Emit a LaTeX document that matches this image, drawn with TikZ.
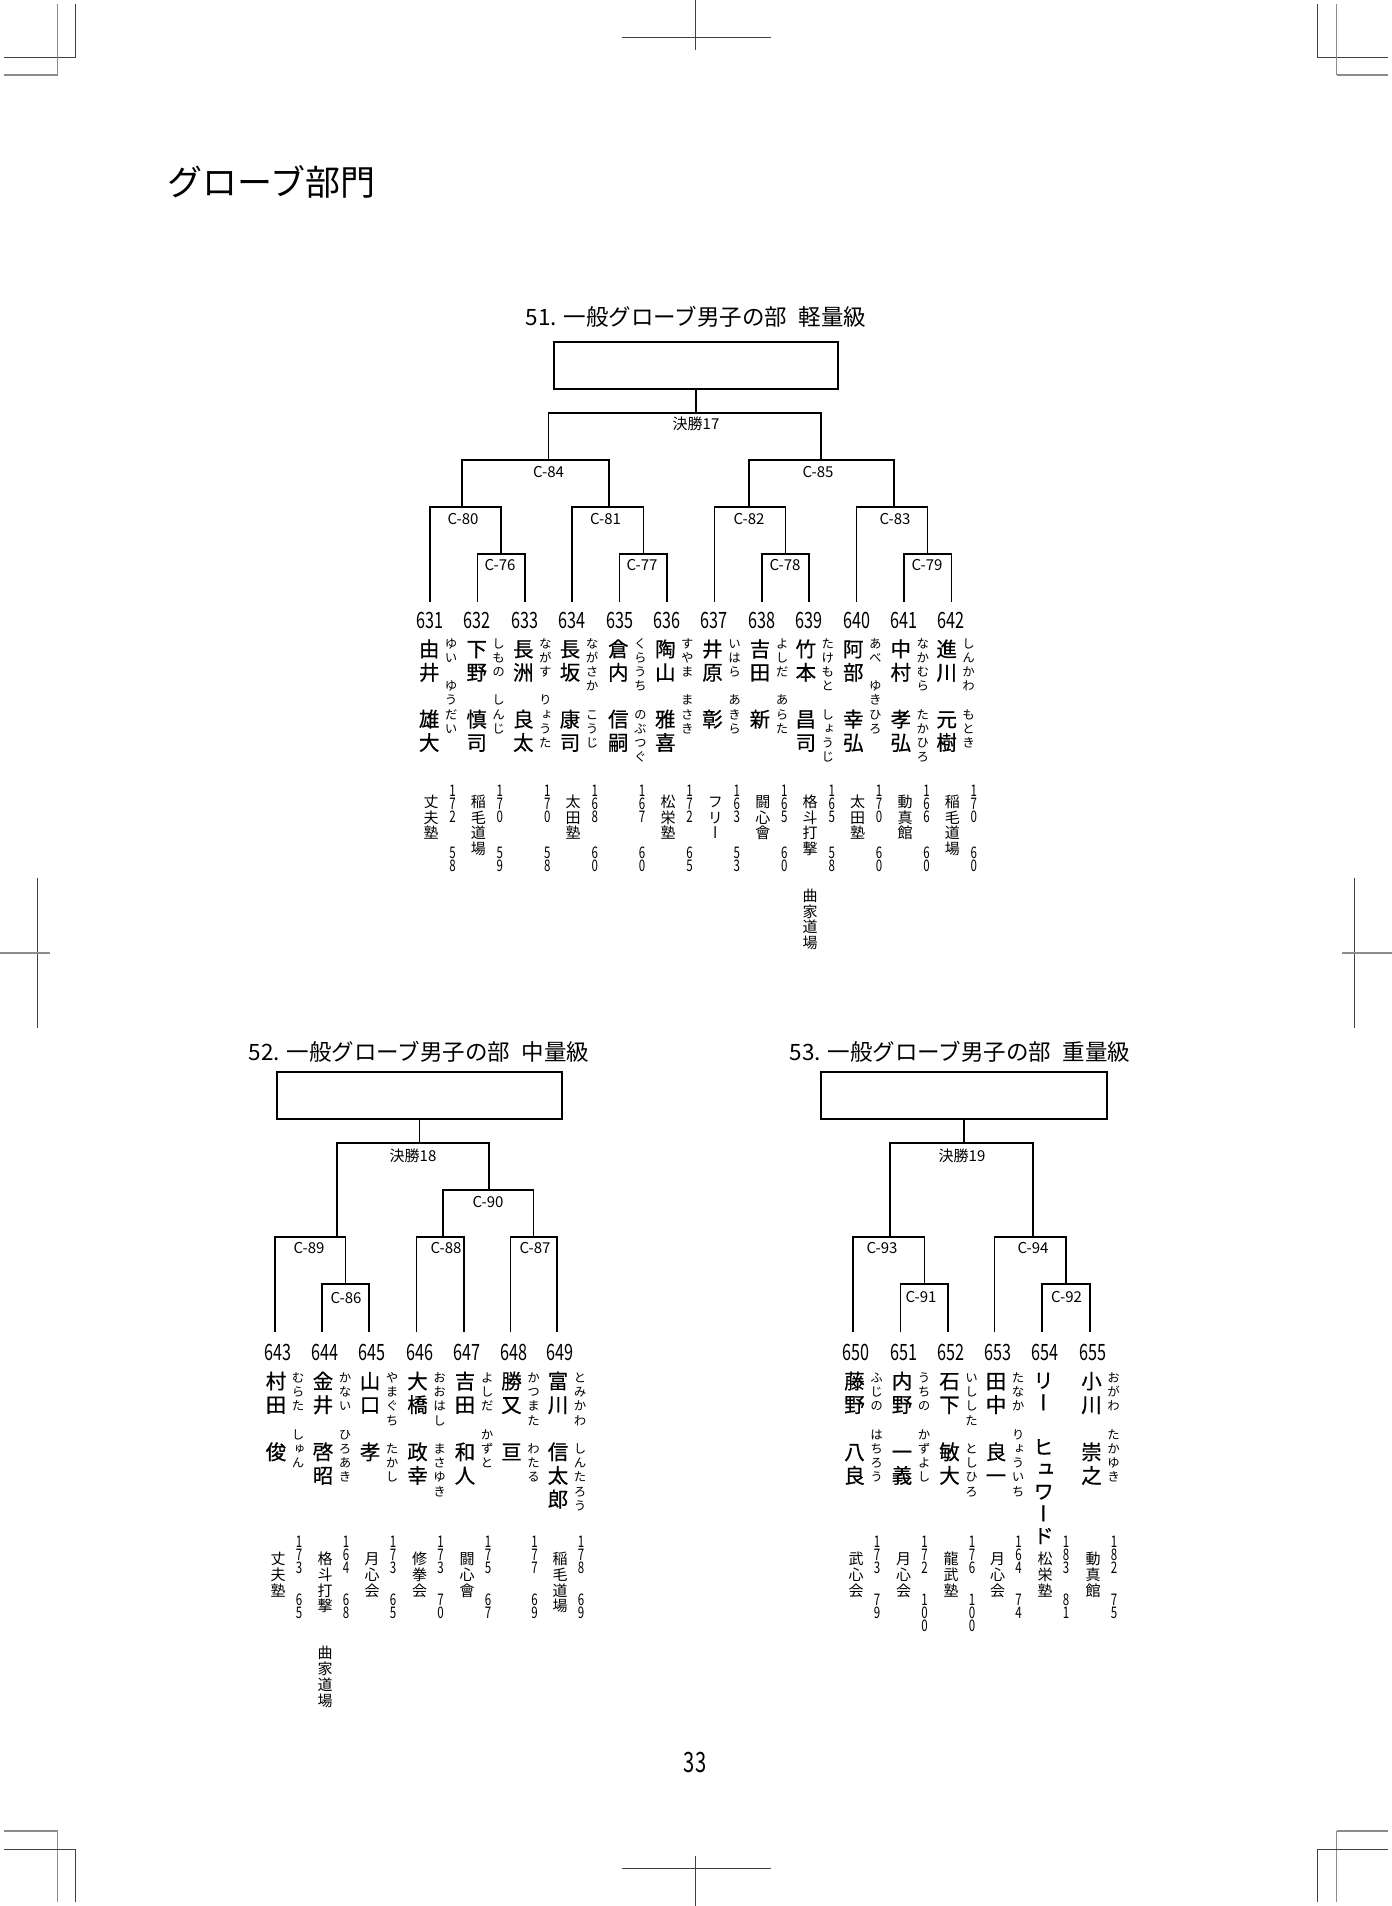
\documentclass[tikz,border=0pt]{standalone}
\usepackage{fontspec}
\setmainfont{Noto Sans CJK JP}
\newfontfamily\nf{Noto Sans CJK JP}[FakeStretch=0.72]
\newfontfamily\vf{Noto Sans CJK JP}[RawFeature=+vert]
\newfontfamily\vfb{Noto Sans CJK JP}[RawFeature=+vert,FakeBold=0.5]

\ExplSyntaxOn
\dim_new:N \l_vsk_pitch_dim
\cs_new_protected:Npn \vsk_stack:nn #1#2
  {
    \dim_set:Nn \l_vsk_pitch_dim {#1}
    \vbox:n
      {
        \offinterlineskip
        \tl_map_inline:nn {#2}
          {
            \hbox_to_wd:nn {1.4em}
              {
                \hss
                \vbox_to_ht:nn {\l_vsk_pitch_dim}
                  { \vss \hbox:n { \vrule~height~.88em~depth~.12em~width~0pt~##1 } \vss }
                \hss
              }
          }
      }
  }
\NewDocumentCommand \vstack { m m } { \vsk_stack:nn {#1} {#2} }
\ExplSyntaxOff

\newcommand\entry[8]{%
  \node[numtxt] (num#1) at ({#2+\numdx},\numy) {#1};
  \node[vnode,namef] (name#1) at (#3,\namey) {\vstack{\namepitch pt}{#4}};
  \node[vnode,furif] (furi#1) at ({#3+\furidx},\furiy) {\vstack{14.2pt}{#5}};
  \node[vnode,digf] (hgt#1) at ({#2+\digdx},\digy) {\vstack{13pt}{#6}};
  \node[vnode,digf] (wgt#1) at ({#2+\digdx},{\digy+\wdy}) {\vstack{13pt}{#7}};
  \node[vnode,clubf] (club#1) at ({#2+\clubdx},\cluby) {\vstack{15.7pt}{#8}};
}

\begin{document}
\begin{tikzpicture}[x=1pt,y=-1pt,
  br/.style={line width=1.5pt},
  boxst/.style={draw,line width=1.8pt,minimum width=#1,minimum height=47pt,inner sep=0,outer sep=0,anchor=north west},
  lab/.style={font=\fontsize{15}{15}\selectfont,inner sep=0},
  ttl/.style={font=\fontsize{22.5}{22.5}\selectfont,inner sep=0},
  numtxt/.style={font=\nf\fontsize{22.5}{22.5}\selectfont,inner sep=0},
  vnode/.style={anchor=north,inner sep=0},
  namef/.style={font=\vfb\fontsize{20.5}{20.5}\selectfont},
  furif/.style={font=\vf\fontsize{12.5}{12.5}\selectfont},
  digf/.style={font=\nf\fontsize{16}{16}\selectfont},
  clubf/.style={font=\vf\fontsize{15}{15}\selectfont},
  mkd/.style={draw=black!75,line width=1pt},
  mkg/.style={draw=black!45,line width=1.4pt}]
\fill[white] (0,0) rectangle (1392,1906);
\useasboundingbox (0,0) rectangle (1392,1906);

% crop marks
\draw[mkd] (75.5,4) -- (75.5,57) (4,57) -- (75.5,57);
\draw[mkg] (57.7,4) -- (57.7,75) (4,75) -- (57.7,75);
\draw[mkd] (695.4,0) -- (695.4,50) (621.7,37) -- (771,37);
\draw[mkd] (1317,4) -- (1317,57) (1317,57) -- (1388,57);
\draw[mkg] (1336.6,4) -- (1336.6,75) (1336.6,75) -- (1388,75);
\draw[mkg] (4,1831) -- (57.7,1831) (57.7,1831) -- (57.7,1902);
\draw[mkd] (4,1849) -- (75.5,1849) (75.5,1849) -- (75.5,1902);
\draw[mkd] (621.7,1868) -- (771,1868) (695.4,1856) -- (695.4,1906);
\draw[mkg] (1336.6,1831) -- (1388,1831) (1336.6,1831) -- (1336.6,1902);
\draw[mkd] (1317,1849) -- (1388,1849) (1317,1849) -- (1317,1902);
\draw[mkd] (37,878) -- (37,1028);
\draw[mkg] (0,953) -- (50,953);
\draw[mkd] (1354,878) -- (1354,1028);
\draw[mkg] (1342,953) -- (1392,953);

% page title and number
\node[font=\fontsize{35}{35}\selectfont,anchor=west,inner sep=0] (pagetitle) at (167,182) {グローブ部門};
\node[font=\nf\fontsize{28}{28}\selectfont,inner sep=0] (pageno) at (695,1762) {33};

% ===== 51 =====
\node[ttl] (title51) at (696,317) {51. 一般グローブ男子の部\hspace{0.5em}軽量級};
\node[boxst=284pt] (box17) at (554,342) {};
\foreach \n/\x in {631/430,632/477.4,633/524.8,634/572.2,635/619.6,636/667,637/714.4,638/761.8,639/809.2,640/856.6,641/904,642/951.4}
  \coordinate (L\n) at (\x,602);
\coordinate (a76) at (501,554);
\coordinate (a77) at (643.3,554);
\coordinate (a78) at (785.5,554);
\coordinate (a79) at (927.7,554);
\coordinate (a80) at (462,507);
\coordinate (a81) at (609,507);
\coordinate (a82) at (749,507);
\coordinate (a83) at (894,507);
\coordinate (a84) at (548.5,460);
\coordinate (a85) at (821,460);
\coordinate (a17) at (696,413);
\draw[br] (L632) |- (a76) -| (L633);
\draw[br] (L635) |- (a77) -| (L636);
\draw[br] (L638) |- (a78) -| (L639);
\draw[br] (L641) |- (a79) -| (L642);
\draw[br] (L631) |- (a80) -| (a76);
\draw[br] (L634) |- (a81) -| (a77);
\draw[br] (L637) |- (a82) -| (a78);
\draw[br] (L640) |- (a83) -| (a79);
\draw[br] (a80) |- (a84) -| (a81);
\draw[br] (a82) |- (a85) -| (a83);
\draw[br] (a84) |- (a17) -| (a85);
\draw[br] (box17.south) -- (box17.south |- a17);
\node[lab] (t17) at (696,424) {決勝17};
\node[lab] (t84) at (548.5,472) {C-84};
\node[lab] (t85) at (818,472) {C-85};
\node[lab] (t80) at (463,519) {C-80};
\node[lab] (t81) at (605.5,519) {C-81};
\node[lab] (t82) at (749,519) {C-82};
\node[lab] (t83) at (895,519) {C-83};
\node[lab] (t76) at (500,565) {C-76};
\node[lab] (t77) at (642,565) {C-77};
\node[lab] (t78) at (785,565) {C-78};
\node[lab] (t79) at (927,565) {C-79};

\def\numdx{0}\def\numy{620}\def\namey{637}\def\furidx{22}\def\furiy{636}
\def\digdx{22.5}\def\digy{784.2}\def\wdy{62}\def\clubdx{1}\def\cluby{793.6}\def\namepitch{23.4}
\entry{631}{430}{429.2}{由井　雄大}{ゆい　ゆうだい}{172}{58}{丈夫塾}
\entry{632}{477.4}{476.7}{下野　慎司}{しもの　しんじ}{170}{59}{稲毛道場}
\entry{633}{524.8}{523.3}{長洲　良太}{ながす　りょうた}{170}{58}{}
\entry{634}{572.2}{570}{長坂　康司}{ながさか　こうじ}{168}{60}{太田塾}
\entry{635}{619.6}{618.3}{倉内　信嗣}{くらうち　のぶつぐ}{167}{60}{}
\entry{636}{667}{665.3}{陶山　雅喜}{すやま　まさき}{172}{65}{松栄塾}
\entry{637}{714.4}{712.5}{井原　彰}{いはら　あきら}{163}{53}{フリー}
\entry{638}{761.8}{760}{吉田　新}{よしだ　あらた}{165}{60}{闘心會}
\entry{639}{809.2}{805.8}{竹本　昌司}{たけもと　しょうじ}{165}{58}{格斗打撃　　曲家道場}
\entry{640}{856.6}{853.3}{阿部　幸弘}{あべ　ゆきひろ}{170}{60}{太田塾}
\entry{641}{904}{900.8}{中村　孝弘}{なかむら　たかひろ}{166}{60}{動真館}
\entry{642}{951.4}{946.7}{進川　元樹}{しんかわ　もとき}{170}{60}{稲毛道場}

% ===== 52 =====
\node[ttl] (title52) at (419,1052) {52. 一般グローブ男子の部\hspace{0.5em}中量級};
\node[boxst=285pt] (box18) at (277,1072) {};
\foreach \n/\x in {643/275,644/322,645/369,646/416.5,647/464,648/510.5,649/557}
  \coordinate (L\n) at (\x,1332);
\coordinate (a86) at (345.5,1284);
\coordinate (a88) at (443,1237);
\coordinate (a87) at (533.5,1237);
\coordinate (a89) at (337,1237);
\coordinate (a90) at (489,1190);
\coordinate (a18) at (419.5,1143);
\draw[br] (L644) |- (a86) -| (L645);
\draw[br] (L646) |- (a88) -| (L647);
\draw[br] (L648) |- (a87) -| (L649);
\draw[br] (L643) |- (a89) -| (a86);
\draw[br] (a88) |- (a90) -| (a87);
\draw[br] (a89) |- (a18) -| (a90);
\draw[br] (box18.south) -- (box18.south |- a18);
\node[lab] (t18) at (413,1156) {決勝18};
\node[lab] (t90) at (488,1202) {C-90};
\node[lab] (t89) at (309,1248) {C-89};
\node[lab] (t88) at (446,1248) {C-88};
\node[lab] (t87) at (535,1248) {C-87};
\node[lab] (t86) at (346,1298) {C-86};

\def\numdx{3}\def\numy{1352.5}\def\namey{1369}\def\furidx{22}\def\furiy{1370.5}
\def\digdx{24}\def\digy{1534.2}\def\wdy{58}\def\clubdx{3}\def\cluby{1551}\def\namepitch{23.6}
\entry{643}{275}{276}{村田　俊}{むらた　しゅん}{173}{65}{丈夫塾}
\entry{644}{322}{323}{金井　啓昭}{かない　ひろあき}{164}{68}{格斗打撃　　曲家道場}
\entry{645}{369}{370}{山口　孝}{やまぐち　たかし}{173}{65}{月心会}
\entry{646}{416.5}{417.5}{大橋　政幸}{おおはし　まさゆき}{173}{70}{修拳会}
\entry{647}{464}{465}{吉田　和人}{よしだ　かずと}{175}{67}{闘心會}
\entry{648}{510.5}{511.5}{勝又　亘}{かつまた　わたる}{177}{69}{}
\entry{649}{557}{558}{富川　信太郎}{とみかわ　しんたろう}{178}{69}{稲毛道場}

% ===== 53 =====
\node[ttl] (title53) at (960,1052) {53. 一般グローブ男子の部\hspace{0.5em}重量級};
\node[boxst=286pt] (box19) at (821,1072) {};
\foreach \n/\x in {650/853,651/900.5,652/948,653/994.5,654/1042,655/1090}
  \coordinate (L\n) at (\x,1332);
\coordinate (a91) at (924.25,1284);
\coordinate (a92) at (1066,1284);
\coordinate (a93) at (890,1237);
\coordinate (a94) at (1033,1237);
\coordinate (a19) at (964,1143);
\draw[br] (L651) |- (a91) -| (L652);
\draw[br] (L654) |- (a92) -| (L655);
\draw[br] (L650) |- (a93) -| (a91);
\draw[br] (L653) |- (a94) -| (a92);
\draw[br] (a93) |- (a19) -| (a94);
\draw[br] (box19.south) -- (box19.south |- a19);
\node[lab] (t19) at (962,1156) {決勝19};
\node[lab] (t93) at (882,1248) {C-93};
\node[lab] (t94) at (1033,1248) {C-94};
\node[lab] (t91) at (921,1297) {C-91};
\node[lab] (t92) at (1066.5,1297) {C-92};

\entry{650}{853}{854.5}{藤野　八良}{ふじの　はちろう}{173}{79}{武心会}
\entry{651}{900.5}{902}{内野　一義}{うちの　かずよし}{172}{100}{月心会}
\entry{652}{948}{949.5}{石下　敏大}{いしした　としひろ}{176}{100}{龍武塾}
\entry{653}{994.5}{996}{田中　良一}{たなか　りょういち}{164}{74}{月心会}
\def\namepitch{22.2}
\entry{654}{1042}{1043.5}{リー　ヒュワード}{}{183}{81}{松栄塾}
\def\namepitch{23.6}
\entry{655}{1090}{1091.5}{小川　崇之}{おがわ　たかゆき}{182}{75}{動真館}
\end{tikzpicture}
\end{document}
